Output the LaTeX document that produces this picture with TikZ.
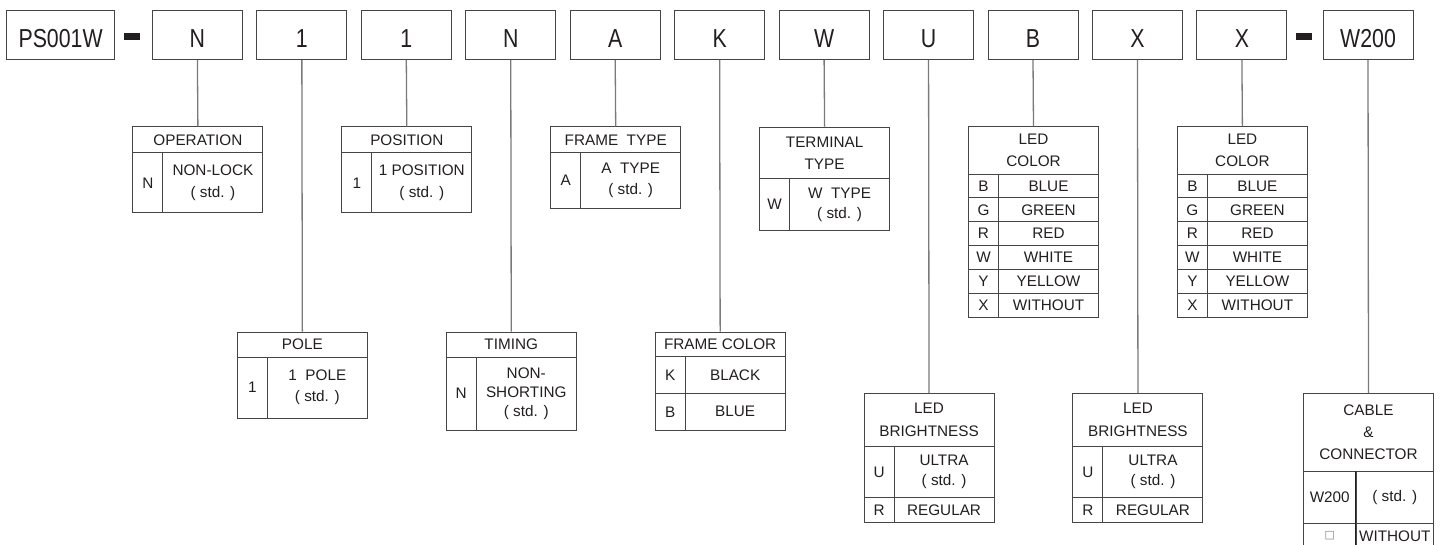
\documentclass[tikz,border=0pt]{standalone}
\usepackage{fontspec}
\setmainfont{Liberation Sans}
\newfontfamily\topfont[FakeStretch=0.82]{Liberation Sans}
\newfontfamily\symfont{DejaVu Sans}
\definecolor{ink}{HTML}{231F20}
\definecolor{edge}{HTML}{454545}
\definecolor{wirec}{HTML}{7A7A7A}
\newcommand\tc[6]{\node[cellbox,minimum width=#4pt,minimum height=#5pt] (#1) at (#2,#3) {#6};}
\begin{document}
\begin{tikzpicture}[x=1pt,y=-1pt,
  topbox/.style={draw=edge, line width=1pt, minimum width=90pt, minimum height=49pt, inner sep=0pt,
    anchor=north, text=ink, text height=24.6pt, text depth=0pt,
    font=\topfont\fontsize{26}{26}\selectfont},
  cellbox/.style={draw=edge, line width=1pt, anchor=north west, inner sep=0pt, align=center,
    text=ink, font=\fontsize{15.3}{21}\selectfont},
  wire/.style={draw=wirec, line width=1.3pt},
  dashbar/.style={fill=ink, draw=none, minimum width=16pt, minimum height=6.5pt, inner sep=0pt}
]
\useasboundingbox (0,0) rectangle (1442,545);
\clip (0,0) rectangle (1442,545);
\fill[white] (0,0) rectangle (1442,545);

% top row
\node[topbox, minimum width=108.4pt] (b00) at (60.6,10) {PS001W};
\node[dashbar] (d1) at (132,36.7) {};
\node[topbox] (b0) at (197.4,10) {N};
\node[topbox] (b1) at (301.85,10) {1};
\node[topbox] (b2) at (406.3,10) {1};
\node[topbox] (b3) at (510.75,10) {N};
\node[topbox] (b4) at (615.2,10) {A};
\node[topbox] (b5) at (719.65,10) {K};
\node[topbox] (b6) at (824.1,10) {W};
\node[topbox] (b7) at (928.55,10) {U};
\node[topbox] (b8) at (1033,10) {B};
\node[topbox] (b9) at (1137.45,10) {X};
\node[topbox] (b10) at (1241.9,10) {X};
\node[dashbar] (d2) at (1304.4,36.7) {};
\node[topbox] (b11) at (1368,10) {W200};

% OPERATION
\tc{opH}{132.4}{126.5}{130}{25.5}{OPERATION}
\tc{opC}{132.4}{152}{30}{60.5}{N}
\tc{opD}{162.4}{152}{100}{60.5}{NON-LOCK\\[1pt]( std. )}

% POLE
\tc{poH}{236.85}{331.5}{130}{25}{POLE}
\tc{poC}{236.85}{356.5}{30}{61}{1}
\tc{poD}{266.85}{356.5}{100}{61}{1\ \ POLE\\( std. )}

% POSITION
\tc{psH}{341.3}{126.5}{130}{25.5}{POSITION}
\tc{psC}{341.3}{152}{30}{60.5}{1}
\tc{psD}{371.3}{152}{100}{60.5}{1 POSITION\\[1pt]( std. )}

% TIMING
\tc{tmH}{445.75}{331.5}{130}{25}{TIMING}
\tc{tmC}{445.75}{356.5}{30}{73}{N}
\tc{tmD}{475.75}{356.5}{100}{73}{NON-\\[-2pt]SHORTING\\[-2pt]( std. )}

% FRAME TYPE
\tc{ftH}{550.2}{126.5}{130}{25.5}{FRAME\ \ TYPE}
\tc{ftC}{550.2}{152}{30}{56}{A}
\tc{ftD}{580.2}{152}{100}{56}{A\ \ TYPE\\( std. )}

% FRAME COLOR
\tc{fcH}{654.65}{331.5}{130}{24.5}{FRAME COLOR}
\tc{fcC1}{654.65}{356}{30}{37}{K}
\tc{fcD1}{684.65}{356}{100}{37}{BLACK}
\tc{fcC2}{654.65}{393}{30}{36.5}{B}
\tc{fcD2}{684.65}{393}{100}{36.5}{BLUE}

% TERMINAL TYPE
\tc{ttH}{759.1}{126.7}{130}{51.5}{TERMINAL\\[1pt]TYPE}
\tc{ttC}{759.1}{178.2}{30}{52}{W}
\tc{ttD}{789.1}{178.2}{100}{52}{W\ \ TYPE\\[-1pt]( std. )}

% LED BRIGHTNESS 1
\tc{lbH}{863.55}{393}{130}{53}{LED\\[2pt]BRIGHTNESS}
\tc{lbC1}{863.55}{446}{30}{51}{U}
\tc{lbD1}{893.55}{446}{100}{51}{ULTRA\\[-1pt]( std. )}
\tc{lbC2}{863.55}{497}{30}{25}{R}
\tc{lbD2}{893.55}{497}{100}{25}{REGULAR}

% LED COLOR 1
\tc{lcH}{968}{126.3}{130}{47.3}{LED\\[1pt]COLOR}
\tc{lcC1}{968}{173.6}{30}{23.85}{B}
\tc{lcD1}{998}{173.6}{100}{23.85}{BLUE}
\tc{lcC2}{968}{197.45}{30}{23.85}{G}
\tc{lcD2}{998}{197.45}{100}{23.85}{GREEN}
\tc{lcC3}{968}{221.3}{30}{23.85}{R}
\tc{lcD3}{998}{221.3}{100}{23.85}{RED}
\tc{lcC4}{968}{245.15}{30}{23.85}{W}
\tc{lcD4}{998}{245.15}{100}{23.85}{WHITE}
\tc{lcC5}{968}{269}{30}{23.85}{Y}
\tc{lcD5}{998}{269}{100}{23.85}{YELLOW}
\tc{lcC6}{968}{292.85}{30}{23.85}{X}
\tc{lcD6}{998}{292.85}{100}{23.85}{WITHOUT}

% LED BRIGHTNESS 2
\tc{mbH}{1072.45}{393}{130}{53}{LED\\[2pt]BRIGHTNESS}
\tc{mbC1}{1072.45}{446}{30}{51}{U}
\tc{mbD1}{1102.45}{446}{100}{51}{ULTRA\\[-1pt]( std. )}
\tc{mbC2}{1072.45}{497}{30}{25}{R}
\tc{mbD2}{1102.45}{497}{100}{25}{REGULAR}

% LED COLOR 2
\tc{mcH}{1176.9}{126.3}{130}{47.3}{LED\\[1pt]COLOR}
\tc{mcC1}{1176.9}{173.6}{30}{23.85}{B}
\tc{mcD1}{1206.9}{173.6}{100}{23.85}{BLUE}
\tc{mcC2}{1176.9}{197.45}{30}{23.85}{G}
\tc{mcD2}{1206.9}{197.45}{100}{23.85}{GREEN}
\tc{mcC3}{1176.9}{221.3}{30}{23.85}{R}
\tc{mcD3}{1206.9}{221.3}{100}{23.85}{RED}
\tc{mcC4}{1176.9}{245.15}{30}{23.85}{W}
\tc{mcD4}{1206.9}{245.15}{100}{23.85}{WHITE}
\tc{mcC5}{1176.9}{269}{30}{23.85}{Y}
\tc{mcD5}{1206.9}{269}{100}{23.85}{YELLOW}
\tc{mcC6}{1176.9}{292.85}{30}{23.85}{X}
\tc{mcD6}{1206.9}{292.85}{100}{23.85}{WITHOUT}

% CABLE & CONNECTOR
\tc{ccH}{1303}{393}{130}{78}{CABLE\\[1pt]\&\\[1pt]CONNECTOR}
\tc{ccC1}{1303}{471}{52.5}{52}{W200}
\tc{ccD1}{1355.5}{471}{77.5}{52}{( std. )}
\tc{ccC2}{1303}{523}{52.5}{25}{{\symfont\fontsize{11}{11}\selectfont\textcolor{gray}{□}}}
\tc{ccD2}{1355.5}{523}{77.5}{25}{WITHOUT}
\draw[ink, line width=1.6pt] (ccD1.north west) -- (ccD2.south west);

% connectors
\draw[wire] (b0.south) -- (opH.north);
\draw[wire] (b1.south) -- (poH.north);
\draw[wire] (b2.south) -- (psH.north);
\draw[wire] (b3.south) -- (tmH.north);
\draw[wire] (b4.south) -- (ftH.north);
\draw[wire] (b5.south) -- (fcH.north);
\draw[wire] (b6.south) -- (ttH.north);
\draw[wire] (b7.south) -- (lbH.north);
\draw[wire] (b8.south) -- (lcH.north);
\draw[wire] (b9.south) -- (mbH.north);
\draw[wire] (b10.south) -- (mcH.north);
\draw[wire] (b11.south) -- (ccH.north);
\end{tikzpicture}
\end{document}
